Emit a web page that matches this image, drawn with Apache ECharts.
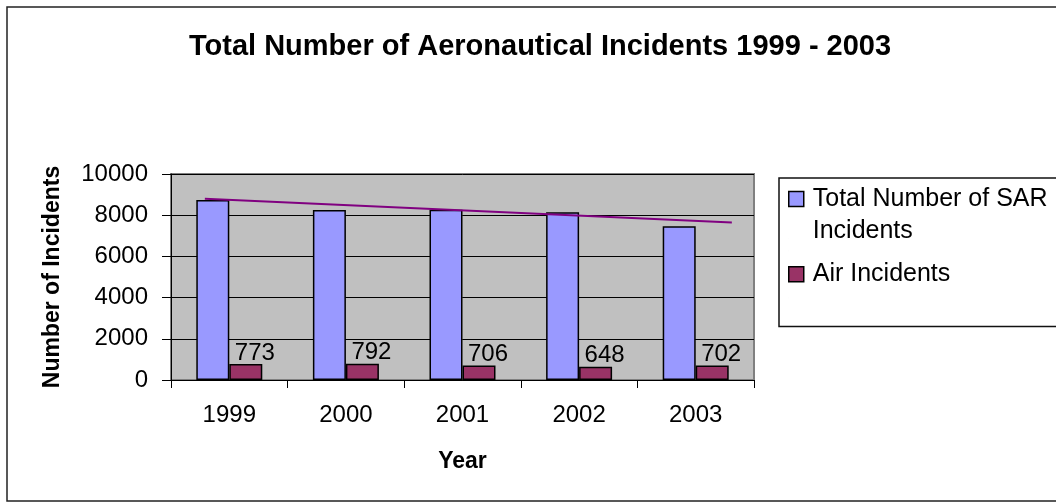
<!DOCTYPE html>
<html>
<head>
<meta charset="utf-8">
<script src="https://cdn.jsdelivr.net/npm/echarts@6/dist/echarts.min.js"></script>
<style>html,body{margin:0;padding:0;background:#fff}#c{width:1056px;height:504px}</style>
</head>
<body>
<div id="c"></div>
<script>
const years = ['1999', '2000', '2001', '2002', '2003'];
const sarIncidents = [8740, 8250, 8260, 8140, 7460];
const airIncidents = [773, 792, 706, 648, 702];
const trendPoints = [[0.29, 8800], [4.81, 7640]];
const yTicks = [0, 2000, 4000, 6000, 8000, 10000];

const FONT = 'Liberation Sans, Arial, sans-serif';
// legend icons: a 15x15 square placed inside a 15x47 box (tiny end marks fix the box size)
const ICON_TOP = 'path://M0,0L15,0L15,15L0,15Z M0,47L0.01,47';
const ICON_MID = 'path://M0,0L0.01,0 M0,16L15,16L15,31L0,31Z M0,47L0.01,47';

const chart = echarts.init(document.getElementById('c'), null, {renderer: 'canvas'});
chart.setOption({
  animation: false,
  backgroundColor: '#fff',
  textStyle: {fontFamily: FONT, color: '#000'},
  title: {
    text: 'Total Number of Aeronautical Incidents 1999 - 2003',
    left: 184, top: 27,
    textStyle: {fontSize: 29, fontWeight: 'bold', color: '#000', fontFamily: FONT}
  },
  graphic: [{
    type: 'rect', shape: {x: 7, y: 7, width: 1070, height: 494},
    style: {fill: 'none', stroke: '#222', lineWidth: 1.5}, silent: true, z: -10
  }],
  legend: {
    orient: 'vertical', left: 779, top: 178,
    data: [
      {name: 'Total Number of SAR Incidents', icon: ICON_TOP},
      {name: 'Air Incidents', icon: ICON_MID}
    ],
    formatter: function (n) { return n === 'Total Number of SAR Incidents' ? 'Total Number of SAR\nIncidents' : n; },
    itemWidth: 15, itemHeight: 47, itemGap: 3,
    padding: [5, 100, 28, 9],
    borderColor: '#111', borderWidth: 1.5,
    textStyle: {fontSize: 25, color: '#000', fontFamily: FONT, lineHeight: 32, padding: [0, 0, 0, 4]},
    itemStyle: {borderColor: '#000', borderWidth: 1.5}
  },
  grid: {
    left: 171, top: 174, width: 583, height: 206,
    show: true, backgroundColor: '#C0C0C0', borderColor: '#808080', borderWidth: 2,
    containLabel: false
  },
  xAxis: [{
    type: 'category', data: years,
    axisLine: {lineStyle: {color: '#000', width: 1}},
    axisTick: {show: true, length: 8, lineStyle: {color: '#000'}},
    axisLabel: {fontSize: 24, color: '#000', margin: 23, fontFamily: FONT},
    name: 'Year', nameLocation: 'middle', nameGap: 70,
    nameTextStyle: {fontSize: 23, fontWeight: 'bold', color: '#000', fontFamily: FONT}
  }, {
    type: 'value', min: 0, max: 5, show: false
  }],
  yAxis: {
    type: 'value', min: 0, max: 10000, interval: 2000,
    axisLine: {show: true, lineStyle: {color: '#000', width: 1}},
    axisTick: {show: true, length: 9, lineStyle: {color: '#000'}},
    axisLabel: {fontSize: 24, color: '#000', margin: 23, fontFamily: FONT,
      customValues: yTicks, formatter: function (v) { return String(v); }},
    splitLine: {show: true, lineStyle: {color: '#000', width: 1}},
    name: 'Number of Incidents', nameLocation: 'middle', nameGap: 107, nameRotate: 90,
    nameTextStyle: {fontSize: 23, fontWeight: 'bold', color: '#000', fontFamily: FONT}
  },
  series: [{
    name: 'Total Number of SAR Incidents', type: 'bar', data: sarIncidents,
    barWidth: 33, barGap: '0%',
    itemStyle: {color: '#9999FF', borderColor: '#000', borderWidth: 1.5}
  }, {
    name: 'Air Incidents', type: 'bar', data: airIncidents,
    barWidth: 33, barGap: '0%',
    itemStyle: {color: '#993366', borderColor: '#000', borderWidth: 1.5},
    label: {show: true, position: 'top', distance: 0, offset: [9, 1], fontSize: 24, color: '#000', fontFamily: FONT}
  }, {
    name: 'Trend', type: 'line', xAxisIndex: 1, data: trendPoints,
    symbol: 'none', lineStyle: {color: '#800080', width: 2}, z: 5
  }]
});
</script>
</body>
</html>
